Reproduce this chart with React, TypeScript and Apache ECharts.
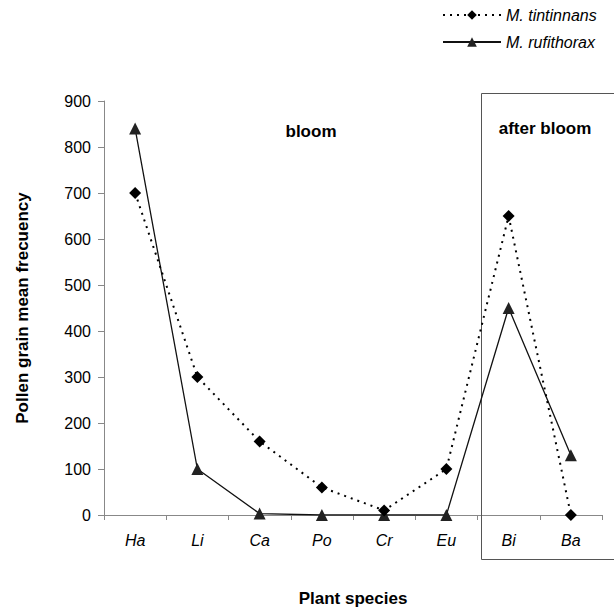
import React, { useEffect, useRef } from "react";
import * as echarts from "echarts";

const categories = ["Ha", "Li", "Ca", "Po", "Cr", "Eu", "Bi", "Ba"];
const tintinnans = [700, 300, 160, 60, 10, 100, 650, 0];
const rufithorax = [840, 100, 3, 0, 0, 0, 450, 130];
const yTicks = { min: 0, max: 900, interval: 100 };

const FONT = "Liberation Sans, Arial, sans-serif";

export default function App() {
  const ref = useRef<HTMLDivElement>(null);
  useEffect(() => {
    if (!ref.current) return;
    const chart = echarts.init(ref.current, null, { renderer: "svg" });
    const boxStyle = { stroke: "#555", lineWidth: 1 };
    chart.setOption({
      animation: false,
      backgroundColor: "#ffffff",
      textStyle: { fontFamily: FONT },
      legend: {
        orient: "vertical",
        left: 437,
        top: 2,
        itemWidth: 58,
        itemHeight: 12,
        itemGap: 11,
        textStyle: { fontFamily: FONT, fontStyle: "italic", fontSize: 16, color: "#000" },
        data: ["M. tintinnans", "M. rufithorax"],
      },
      grid: {
        left: 104,
        right: 12,
        top: 101,
        bottom: 93,
        containLabel: false,
        outerBoundsMode: "none",
      },
      xAxis: {
        type: "category",
        data: categories,
        boundaryGap: true,
        name: "Plant species",
        nameLocation: "middle",
        nameGap: 75,
        nameTextStyle: { fontFamily: FONT, fontWeight: "bold", fontSize: 17, color: "#000" },
        axisLine: { lineStyle: { color: "#888", width: 1 } },
        axisTick: { show: true, alignWithLabel: false, length: 5, lineStyle: { color: "#888" } },
        axisLabel: { fontFamily: FONT, fontStyle: "italic", fontSize: 16, color: "#000", margin: 17 },
        splitLine: { show: false },
      },
      yAxis: {
        type: "value",
        min: yTicks.min,
        max: yTicks.max,
        interval: yTicks.interval,
        name: "Pollen grain mean frecuency",
        nameLocation: "middle",
        nameGap: 73,
        nameTextStyle: { fontFamily: FONT, fontWeight: "bold", fontSize: 17, color: "#000" },
        axisLine: { show: true, lineStyle: { color: "#888", width: 1 } },
        axisTick: { show: true, inside: false, length: 6, lineStyle: { color: "#888" } },
        axisLabel: { fontFamily: FONT, fontSize: 16, color: "#000", margin: 13 },
        splitLine: { show: false },
      },
      series: [
        {
          name: "M. tintinnans",
          type: "line",
          data: tintinnans,
          symbol: "diamond",
          symbolSize: 12,
          lineStyle: { color: "#000", width: 2, type: [2, 5] },
          itemStyle: { color: "#000" },
          z: 3,
        },
        {
          name: "M. rufithorax",
          type: "line",
          data: rufithorax,
          symbol: "triangle",
          symbolSize: 12,
          lineStyle: { color: "#111", width: 1.3 },
          itemStyle: { color: "#222" },
          z: 2,
        },
      ],
      graphic: [
        { type: "line", shape: { x1: 481.5, y1: 93.5, x2: 614, y2: 93.5 }, style: boxStyle, z: 1 },
        { type: "line", shape: { x1: 481.5, y1: 93.5, x2: 481.5, y2: 559.5 }, style: boxStyle, z: 1 },
        { type: "line", shape: { x1: 481.5, y1: 559.5, x2: 614, y2: 559.5 }, style: boxStyle, z: 1 },
        {
          type: "text",
          x: 311,
          y: 131,
          style: {
            text: "bloom",
            fontFamily: FONT,
            fontWeight: "bold",
            fontSize: 17,
            fill: "#000",
            align: "center",
            verticalAlign: "middle",
          },
        },
        {
          type: "text",
          x: 545,
          y: 128,
          style: {
            text: "after bloom",
            fontFamily: FONT,
            fontWeight: "bold",
            fontSize: 17,
            fill: "#000",
            align: "center",
            verticalAlign: "middle",
          },
        },
      ],
    });
    return () => chart.dispose();
  }, []);
  return (
    <div
      ref={ref}
      style={{ position: "absolute", left: 0, top: 0, width: 614, height: 608, overflow: "hidden" }}
    />
  );
}
